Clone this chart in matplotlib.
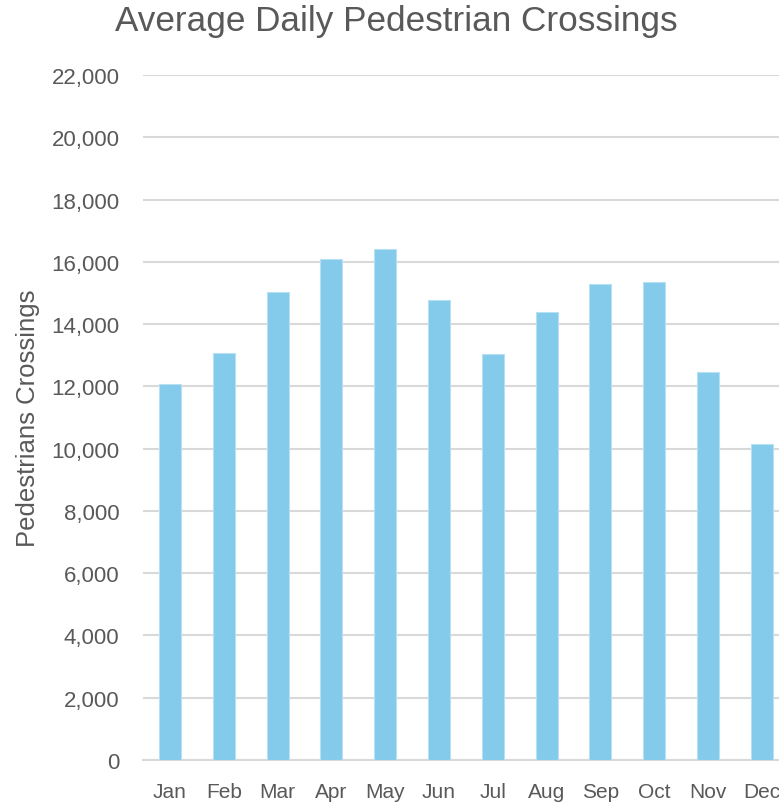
import matplotlib
matplotlib.use("Agg")
import matplotlib.pyplot as plt
from matplotlib.ticker import FuncFormatter, MultipleLocator

months = ["Jan", "Feb", "Mar", "Apr", "May", "Jun", "Jul", "Aug", "Sep", "Oct", "Nov", "Dec"]
crossings = [12080, 13070, 15030, 16090, 16410, 14770, 13040, 14390, 15290, 15350, 12460, 10150]

title = "Average Daily Pedestrian Crossings"
ylabel = "Pedestrians Crossings"

plt.rcParams['font.family'] = ['Liberation Sans', 'DejaVu Sans']
text_color = "#595959"
grid_color = "#d9d9d9"
bar_color = "#83CAEB"

fig = plt.figure(figsize=(7.79, 8.04), dpi=100)
ax = fig.add_axes([143.1/779, 43/804, 645.6/779, 685/804])

x = list(range(len(months)))
ax.bar(x, crossings, width=0.41, color=bar_color, edgecolor="#b8e0f3", linewidth=0.8, zorder=3)

ax.set_xlim(-0.5, len(months) - 0.5)
ax.set_ylim(0, 22000)
ax.yaxis.set_major_locator(MultipleLocator(2000))
ax.yaxis.set_major_formatter(FuncFormatter(lambda v, p: f"{int(v):,}"))
ax.set_xticks(x)
ax.set_xticklabels(months)

ax.grid(axis="y", color=grid_color, linewidth=1.5, zorder=0)
for s in ["top", "right", "left"]:
    ax.spines[s].set_visible(False)
ax.spines["bottom"].set_color(grid_color)
ax.spines["bottom"].set_linewidth(1.5)
ax.tick_params(axis="both", length=0, colors=text_color)
ax.tick_params(axis="y", pad=17, labelsize=16)
ax.tick_params(axis="x", pad=16, labelsize=15)

ax.set_ylabel(ylabel, fontsize=18.5, color=text_color, labelpad=8)
fig.text(396/779, 1 - 21/804, title, ha="center", va="center", fontsize=25.3, color=text_color)

fig.savefig("out.png", dpi=100)
